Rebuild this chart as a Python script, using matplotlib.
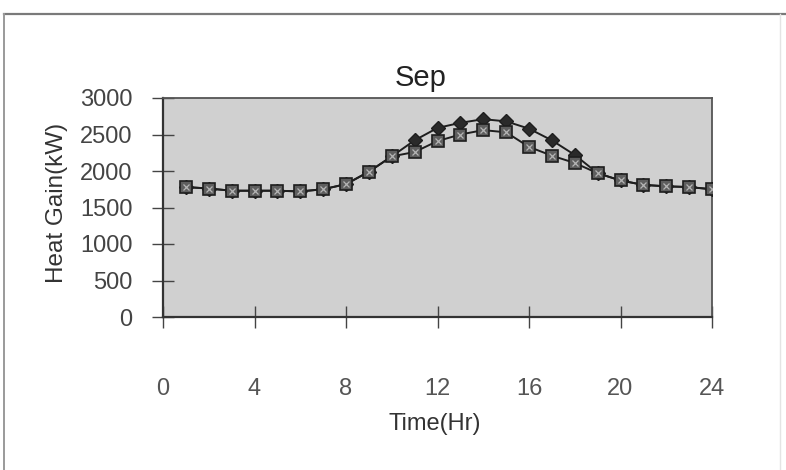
import matplotlib
matplotlib.use("Agg")
import matplotlib.pyplot as plt
from matplotlib.lines import Line2D

plt.rcParams['font.family'] = ['Liberation Sans', 'DejaVu Sans']

# Hourly heat gain for September (kW)
hours = list(range(1, 25))
gain_peak = [1780, 1760, 1730, 1730, 1730, 1720, 1750, 1820, 1990, 2200,
             2420, 2590, 2660, 2710, 2680, 2580, 2420, 2220,
             1970, 1870, 1810, 1790, 1780, 1750]
gain_base = [1780, 1760, 1730, 1730, 1730, 1720, 1750, 1820, 1990, 2200,
             2260, 2410, 2500, 2560, 2530, 2330, 2210, 2110,
             1970, 1870, 1810, 1790, 1780, 1750]
x_ticks = [0, 4, 8, 12, 16, 20, 24]
y_ticks = [0, 500, 1000, 1500, 2000, 2500, 3000]

W, H = 786, 470
fig = plt.figure(figsize=(W / 100, H / 100), dpi=100)
fig.patch.set_facecolor('white')

# chart frame lines
fig.add_artist(Line2D([4 / W, 1.0], [1 - 14 / H, 1 - 14 / H], color='#7a7a7a', lw=1.6))
fig.add_artist(Line2D([4 / W, 4 / W], [0, 1 - 14 / H], color='#9a9a9a', lw=1.4))
fig.add_artist(Line2D([780 / W, 780 / W], [0, 1 - 14 / H], color='#e4e4e4', lw=1.0))

ax = fig.add_axes([163 / W, 1 - 317 / H, 549 / W, 219 / H])
ax.set_facecolor('#d0d0d0')

ax.plot(hours, gain_peak, color='#1e1e1e', lw=1.4, marker='D', ms=7.5,
        mfc='#2a2a2a', mec='#1e1e1e', zorder=3)
ax.plot(hours, gain_base, color='#1e1e1e', lw=1.4, marker='s', ms=8.5,
        mfc='#5e5e5e', mec='#1e1e1e', mew=1.2, zorder=4)
ax.plot(hours, gain_base, ls='none', marker='x', ms=5, mec='#b5b5b5',
        mew=0.9, zorder=5)

ax.set_xlim(0, 24)
ax.set_ylim(0, 3000)
ax.set_xticks(x_ticks)
ax.set_yticks(y_ticks)
ax.tick_params(axis='x', direction='inout', length=16, width=1.0,
               color='#444444', labelsize=17, labelcolor='#555555', pad=36)
ax.tick_params(axis='y', direction='inout', length=16, width=1.0,
               color='#444444', labelsize=17, labelcolor='#444444', pad=14)

for side in ['left', 'bottom']:
    ax.spines[side].set_color('#333333')
    ax.spines[side].set_linewidth(1.6)
for side in ['top', 'right']:
    ax.spines[side].set_color('#555555')
    ax.spines[side].set_linewidth(1.3)

fig.text(421 / W, 1 - 86 / H, 'Sep', fontsize=21, color='#222222',
         ha='center', va='baseline')
ax.set_xlabel('Time(Hr)', fontsize=17, color='#333333')
ax.xaxis.set_label_coords(0.495, -0.438)
ax.set_ylabel('Heat Gain(kW)', fontsize=17.5, color='#333333')
ax.yaxis.set_label_coords(-0.173, 0.52)

fig.savefig('out.png', dpi=100)
